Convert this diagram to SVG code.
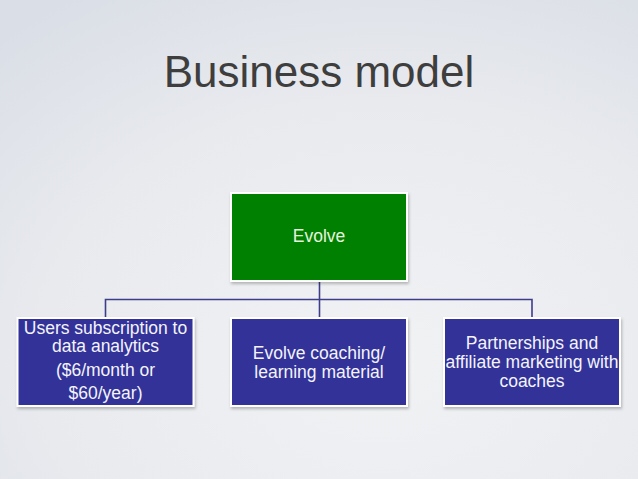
<svg xmlns="http://www.w3.org/2000/svg" width="638" height="479" viewBox="0 0 638 479">
<defs>
<radialGradient id="bg" cx="0.6" cy="0.75" r="0.9">
<stop offset="0" stop-color="#f1f2f4"/>
<stop offset="0.6" stop-color="#e8eaee"/>
<stop offset="1" stop-color="#dadee6"/>
</radialGradient>
<filter id="sh" x="-10%" y="-10%" width="120%" height="130%">
<feDropShadow dx="1" dy="2" stdDeviation="1.5" flood-color="#000" flood-opacity="0.25"/>
</filter>
<style>
.box{stroke:#ffffff;stroke-width:2;filter:url(#sh)}
.green{fill:#018001}
.blue{fill:#333399}
.t{font-family:"Liberation Sans",Arial,sans-serif;font-size:17.5px;text-anchor:middle;fill:#f4f4fa}
.conn{fill:none;stroke:#3d3d8c;stroke-width:1.6}
</style>
</defs>
<rect width="638" height="479" fill="url(#bg)"/>
<text x="319" y="87" font-family="Liberation Sans, Arial, sans-serif" font-size="44" text-anchor="middle" fill="#3e3e3e">Business model</text>
<g id="connectors">
<path class="conn" d="M319.5 281 V318 M105.5 318 V299.5 H532 V318"/>
</g>
<g id="evolve">
<rect class="box green" x="231" y="193" width="176" height="88"/>
<text class="t" x="319" y="242" style="fill:#e6f4df">Evolve</text>
</g>
<g id="subscription">
<rect class="box blue" x="17.5" y="318" width="176" height="88"/>
<text class="t" x="105.5" y="333.5">Users subscription to</text>
<text class="t" x="105.5" y="352">data analytics</text>
<text class="t" x="105.5" y="376">($6/month or</text>
<text class="t" x="105.5" y="399">$60/year)</text>
</g>
<g id="coaching">
<rect class="box blue" x="231" y="318" width="176" height="88"/>
<text class="t" x="319" y="359">Evolve coaching/</text>
<text class="t" x="319" y="378">learning material</text>
</g>
<g id="partnerships">
<rect class="box blue" x="444" y="318" width="176" height="88"/>
<text class="t" x="532" y="349">Partnerships and</text>
<text class="t" x="532" y="368">affiliate marketing with</text>
<text class="t" x="532" y="387">coaches</text>
</g>
</svg>
